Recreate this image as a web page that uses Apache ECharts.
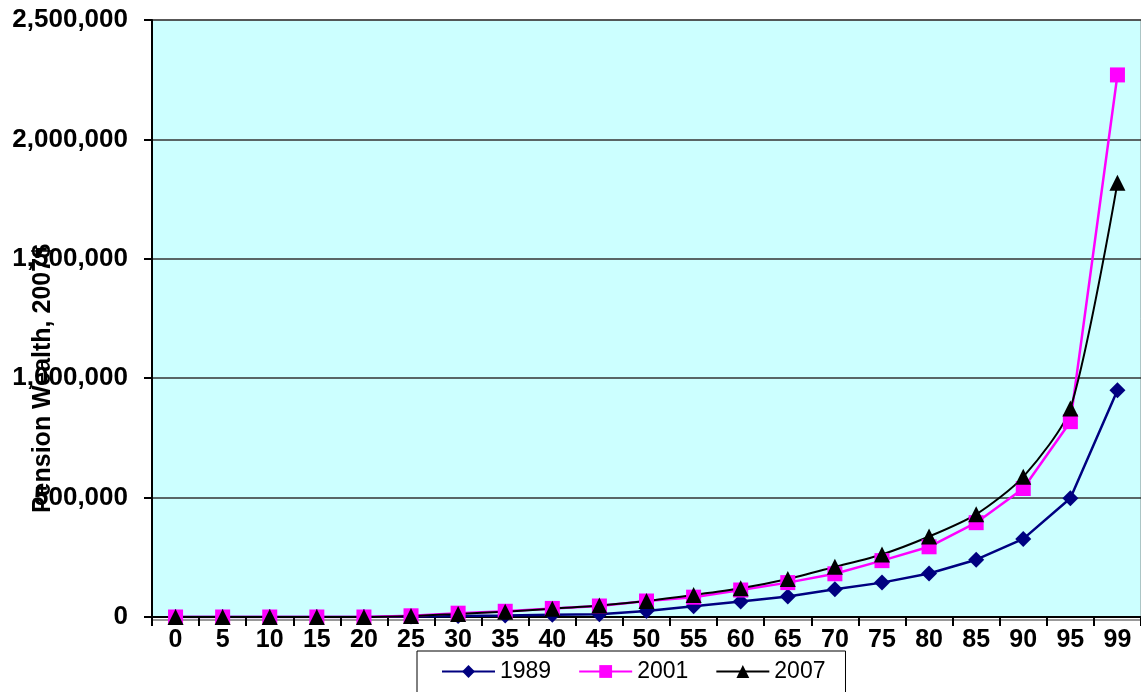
<!DOCTYPE html>
<html>
<head>
<meta charset="utf-8">
<title>Pension Wealth by Percentile</title>
<script src="https://cdn.jsdelivr.net/npm/echarts@6/dist/echarts.min.js"></script>
<style>
  html, body { margin: 0; padding: 0; background: #ffffff; }
  #chart { width: 1141px; height: 692px; }
</style>
</head>
<body>
<div id="chart"></div>
<script>
// Percentile categories along the x axis
const categories = ['0', '5', '10', '15', '20', '25', '30', '35', '40', '45', '50',
                    '55', '60', '65', '70', '75', '80', '85', '90', '95', '99'];

// Pension wealth in 2007 dollars, by year
const wealth1989 = [0, 0, 0, 0, 0, 2000, 4000, 6000, 9000, 12000, 25000,
                    45000, 65000, 86000, 116000, 144000, 182000, 240000, 327000, 497000, 950000];
const wealth2001 = [0, 0, 0, 0, 0, 5000, 16000, 24000, 36000, 46000, 67000,
                    83000, 113000, 144000, 181000, 236000, 294000, 395000, 538000, 818000, 2270000];
const wealth2007 = [0, 0, 0, 0, 0, 4000, 13000, 22000, 35000, 48000, 67000,
                    92000, 120000, 159000, 210000, 262000, 337000, 430000, 587000, 873000, 1818000];

const seriesNames = ['1989', '2001', '2007'];
const yTicks = [0, 500000, 1000000, 1500000, 2000000, 2500000];
const yTitle = 'Pension Wealth, 2007$';

const font = "'Liberation Sans', Arial, sans-serif";

const chart = echarts.init(document.getElementById('chart'), null, { renderer: 'canvas' });

chart.setOption({
  animation: false,
  backgroundColor: '#ffffff',
  grid: {
    left: 152, top: 20, right: -6, bottom: 75,
    show: true,
    backgroundColor: '#CCFFFF',
    borderColor: '#8a8a8a',
    borderWidth: 1
  },
  legend: {
    data: seriesNames,
    left: 417,
    top: 651,
    orient: 'horizontal',
    backgroundColor: '#ffffff',
    borderColor: '#000000',
    borderWidth: 1,
    padding: [9, 20, 30, 24],
    itemWidth: 53,
    itemHeight: 16,
    itemGap: 27,
    textStyle: { fontFamily: font, fontSize: 23, color: '#000000' }
  },
  xAxis: {
    type: 'category',
    data: categories,
    boundaryGap: true,
    axisLine: {
      lineStyle: { color: '#000000', width: 2, shadowColor: '#9a9a9a', shadowOffsetY: 3, shadowBlur: 0 }
    },
    axisTick: { show: true, length: 9, lineStyle: { color: '#000000', width: 2 } },
    axisLabel: {
      margin: 11,
      interval: 0,
      fontFamily: font,
      fontSize: 25,
      fontWeight: 'bold',
      color: '#000000'
    },
    splitLine: { show: false }
  },
  yAxis: {
    type: 'value',
    min: yTicks[0],
    max: yTicks[yTicks.length - 1],
    interval: yTicks[1] - yTicks[0],
    axisLine: { show: true, lineStyle: { color: '#000000', width: 2 } },
    axisTick: { show: true, length: 8, lineStyle: { color: '#000000', width: 2 } },
    axisLabel: {
      margin: 24,
      fontFamily: font,
      fontSize: 26,
      fontWeight: 'bold',
      color: '#000000',
      formatter: v => v.toLocaleString('en-US')
    },
    splitLine: { show: true, lineStyle: { color: '#333333', width: 1.5 } }
  },
  graphic: [{
    type: 'text',
    left: 31,
    top: 244,
    z: 100,
    rotation: Math.PI / 2,
    style: {
      text: yTitle,
      fontFamily: font,
      fontSize: 25,
      fontWeight: 'bold',
      fill: '#000000'
    }
  }],
  series: [
    {
      name: seriesNames[0],
      type: 'line',
      data: wealth1989,
      symbol: 'diamond',
      symbolSize: 16,
      lineStyle: { color: '#000080', width: 2.5 },
      itemStyle: { color: '#000080' }
    },
    {
      name: seriesNames[1],
      type: 'line',
      data: wealth2001,
      symbol: 'rect',
      symbolSize: 15,
      lineStyle: { color: '#FF00FF', width: 2.5 },
      itemStyle: { color: '#FF00FF' }
    },
    {
      name: seriesNames[2],
      type: 'line',
      data: wealth2007,
      symbol: 'triangle',
      symbolSize: 16,
      smooth: 0.25,
      lineStyle: { color: '#000000', width: 2 },
      itemStyle: { color: '#000000' }
    }
  ]
});
</script>
</body>
</html>
